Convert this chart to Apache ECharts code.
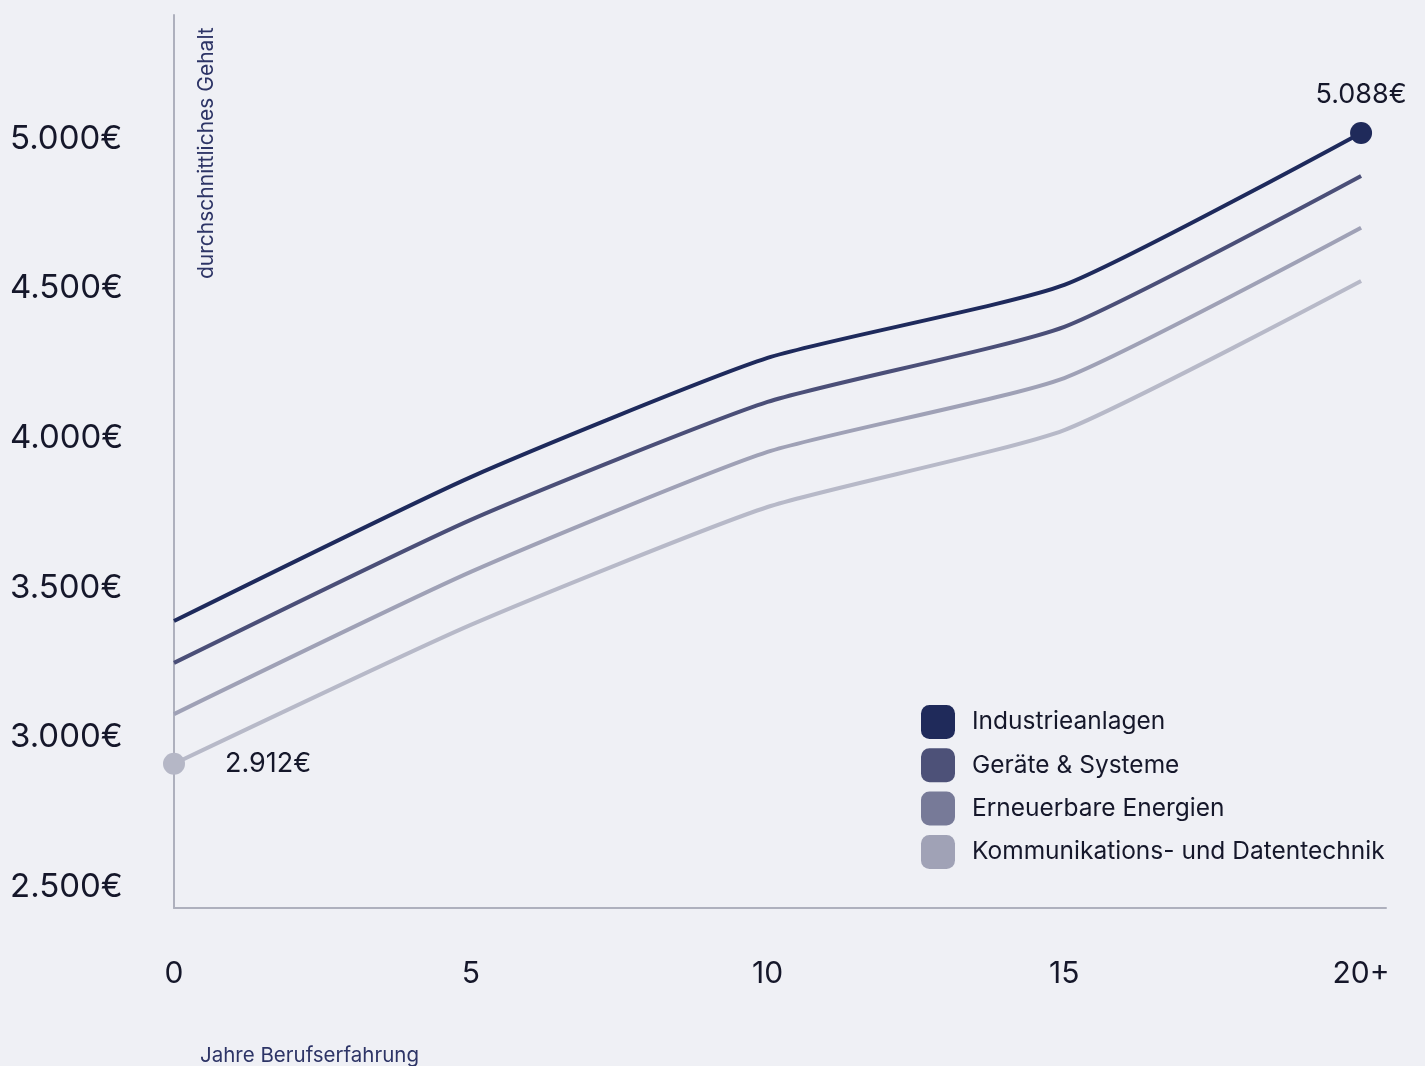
<!DOCTYPE html>
<html>
<head>
<meta charset="utf-8">
<script src="https://cdn.jsdelivr.net/npm/echarts@6/dist/echarts.min.js"></script>
<style>
  html, body { margin: 0; padding: 0; background: #eff0f5; }
  #chart { width: 1425px; height: 1066px; }
</style>
</head>
<body>
<div id="chart"></div>
<script>
// Daten
var years = [0, 5, 10, 15, 20];
var xTickLabels = ['0', '5', '10', '15', '20+'];
var yTicks = [2500, 3000, 3500, 4000, 4500, 5000];
var yTickLabels = ['2.500€', '3.000€', '3.500€', '4.000€', '4.500€', '5.000€'];

var seriesNames = ['Industrieanlagen', 'Geräte & Systeme', 'Erneuerbare Energien', 'Kommunikations- und Datentechnik'];
var industrie = [3389, 3870, 4268, 4512, 5020];
var geraete = [3249, 3727, 4121, 4372, 4876];
var erneuerbar = [3078, 3553, 3954, 4201, 4703];
var kommunikation = [2912, 3376, 3770, 4027, 4525];

// hervorgehobene Punkte: [Serie, Index, Text]
var callouts = [
    [0, 4, '5.088€'],
    [3, 0, '2.912€']
];

var lineColors = ['#1e2a5c', '#4b4f78', '#9fa1b6', '#b7b9c8'];
var legendColors = ['#1f2a5a', '#4d5178', '#777a98', '#a0a2b6'];

var chart = echarts.init(document.getElementById('chart'));

function buildData(values, sIdx) {
    return values.map(function (v, i) {
        var item = { value: [years[i], v], symbol: 'none' };
        callouts.forEach(function (c) {
            if (c[0] === sIdx && c[1] === i) {
                item.symbol = 'circle';
                item.symbolSize = 22;
                item.itemStyle = { color: sIdx === 0 ? legendColors[0] : '#b5b7c6' };
                item.label = {
                    show: true,
                    formatter: c[2],
                    position: sIdx === 0 ? 'top' : 'right',
                    distance: sIdx === 0 ? 14 : 40,
                    fontFamily: 'Inter',
                    fontSize: 27,
                    color: '#15172a'
                };
            }
        });
        return item;
    });
}

var allValues = [industrie, geraete, erneuerbar, kommunikation];
var series = allValues.map(function (vals, k) {
    return {
        name: seriesNames[k],
        type: 'line',
        smooth: 0.18,
        symbol: 'circle',
        z: 10 - k,
        lineStyle: { color: lineColors[k], width: 4 },
        itemStyle: { color: legendColors[k] },
        emphasis: { disabled: true },
        data: buildData(vals, k)
    };
});

var option = {
    backgroundColor: '#eff0f5',
    animation: false,
    grid: { left: 174, right: 39, top: 15, bottom: 158 },
    legend: {
        orient: 'vertical',
        left: 916,
        top: 700,
        icon: 'roundRect',
        itemWidth: 34,
        itemHeight: 34,
        itemGap: 9.3,
        textStyle: { fontFamily: 'Inter', fontSize: 24.5, color: '#15172a', padding: [0, 0, 0, 12] },
        data: seriesNames
    },
    xAxis: {
        type: 'value',
        min: 0,
        max: 20.42,
        splitLine: { show: false },
        axisTick: { show: false },
        axisLine: { lineStyle: { color: '#aeb0bd', width: 2 } },
        axisLabel: {
            customValues: years,
            margin: 51,
            fontFamily: 'Inter',
            fontSize: 30,
            color: '#15172a',
            formatter: function (v) { return xTickLabels[years.indexOf(v)]; }
        }
    },
    yAxis: {
        type: 'value',
        min: 2430,
        max: 5414,
        splitLine: { show: false },
        axisTick: { show: false },
        axisLine: { show: true, lineStyle: { color: '#aeb0bd', width: 2 } },
        axisLabel: {
            customValues: yTicks,
            align: 'left',
            margin: 164,
            fontFamily: 'Inter',
            fontSize: 33,
            color: '#15172a',
            formatter: function (v) { return yTickLabels[yTicks.indexOf(v)]; }
        }
    },
    graphic: [
        {
            type: 'text',
            x: 207,
            y: 279,
            rotation: Math.PI / 2,
            style: {
                text: 'durchschnittliches Gehalt',
                fontFamily: 'Inter',
                fontSize: 21,
                fill: '#2d3466',
                align: 'left',
                verticalAlign: 'middle'
            }
        },
        {
            type: 'text',
            x: 200,
            y: 1056,
            style: {
                text: 'Jahre Berufserfahrung',
                fontFamily: 'Inter',
                fontSize: 20.5,
                fill: '#2d3466',
                align: 'left',
                verticalAlign: 'middle'
            }
        }
    ],
    series: series
};

chart.setOption(option);
</script>
</body>
</html>
